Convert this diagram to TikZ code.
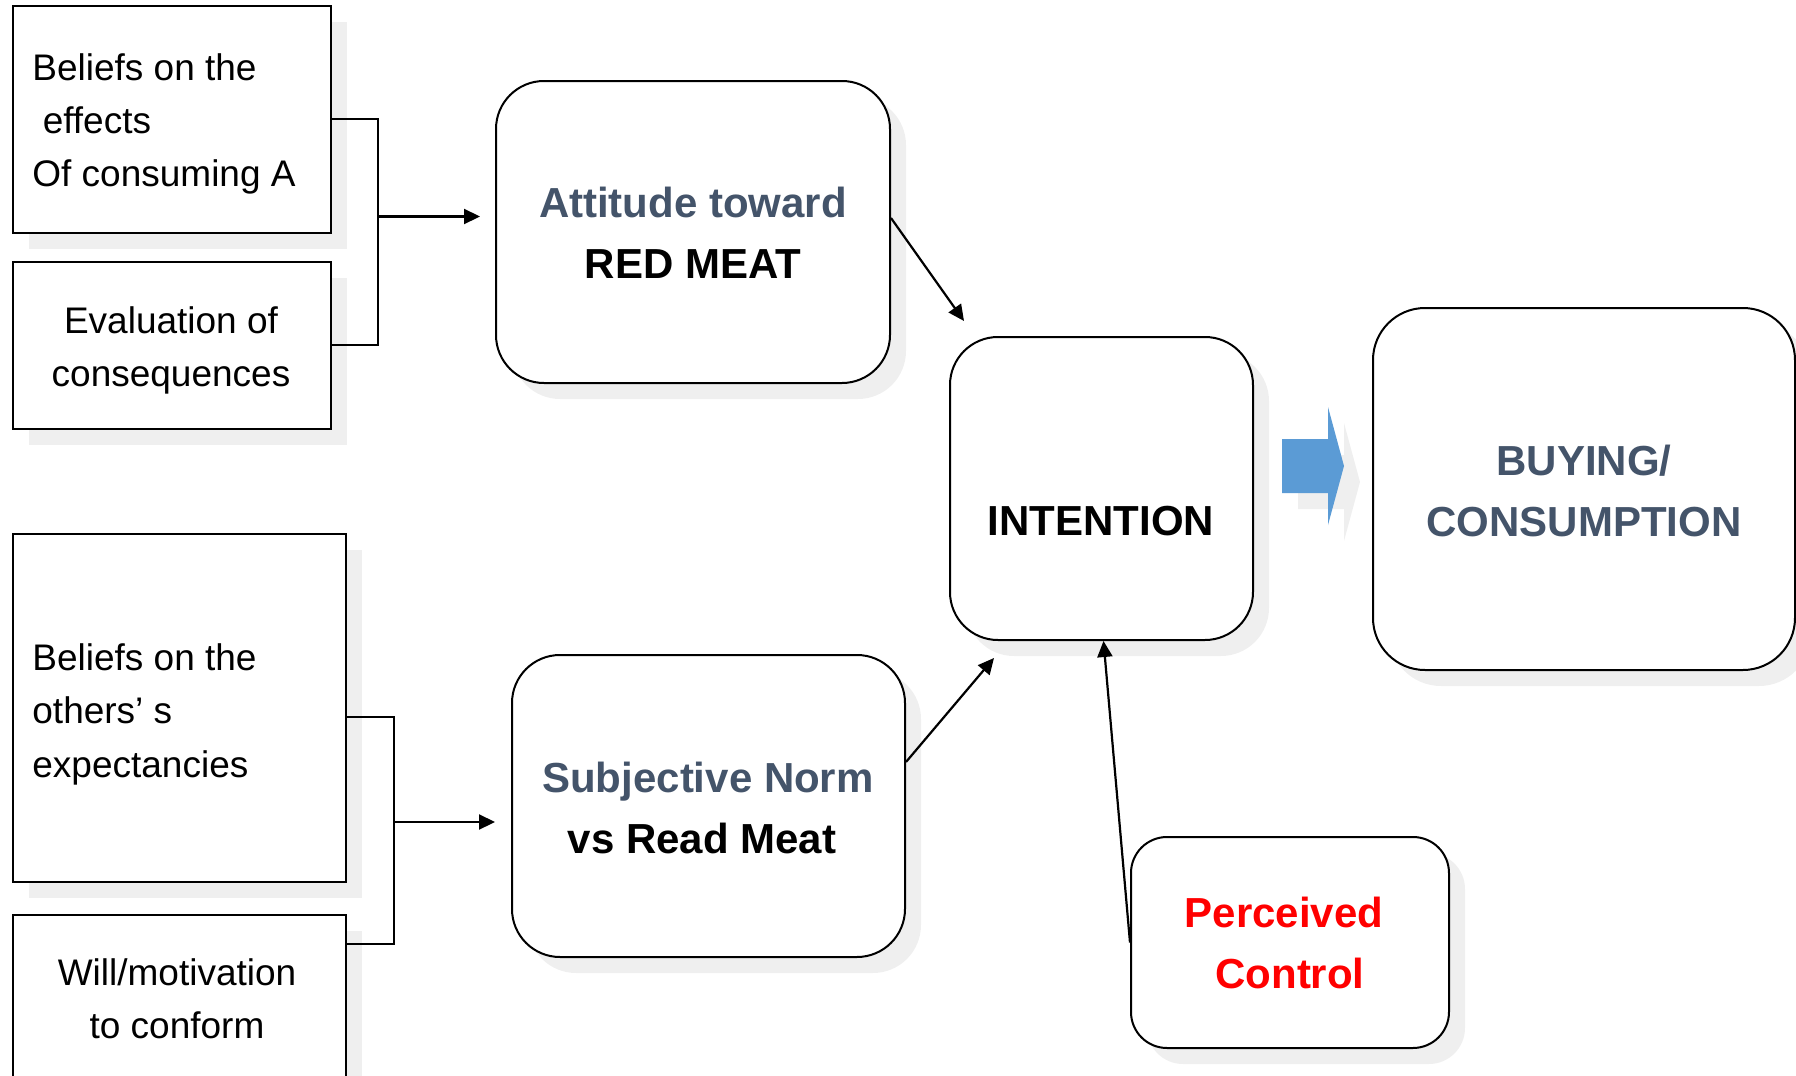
\documentclass[tikz,border=0pt]{standalone}
\usepackage{fontspec}
\setmainfont{Liberation Sans}
\usetikzlibrary{arrows.meta,shadows,calc}
\definecolor{slate}{HTML}{44546A}
\definecolor{flowblue}{HTML}{5B9BD5}
\definecolor{shadowgrey}{HTML}{EFEFEF}
\definecolor{alert}{HTML}{FF0000}
\newcommand\txtl[1]{\begin{tabular}[t]{@{}l@{}}#1\end{tabular}}
\newcommand\txtc[1]{\begin{tabular}[t]{@{}c@{}}#1\end{tabular}}

\begin{document}
\begin{tikzpicture}[x=0.5pt,y=-0.5pt,
  shadowed/.style={drop shadow={shadow xshift=8pt,shadow yshift=-8pt,fill=shadowgrey,opacity=1}},
  plainbox/.style={draw=black,line width=1pt,fill=white,inner sep=0pt,shadowed},
  softbox/.style={plainbox,rounded corners=24pt},
  body/.style={inner sep=0pt,font=\fontsize{18.5}{26.75}\selectfont},
  heavy/.style={inner sep=0pt,font=\fontsize{21}{30.75}\selectfont\bfseries},
  link/.style={line width=1.1pt,-{Triangle[length=8pt,width=7.5pt]}},
  joint/.style={line width=1pt},
]
\useasboundingbox (0,0) rectangle (1796,1076);
\clip (0,0) rectangle (1796,1076);

% belief and evaluation boxes on the left
\node[plainbox,minimum width=159.25pt,minimum height=113.5pt] (b1) at (171.75,119) {};
\node[plainbox,minimum width=159.25pt,minimum height=83.25pt] (b2) at (171.75,345.25) {};
\node[plainbox,minimum width=166.5pt,minimum height=174pt] (b3) at (179,708) {};
\node[plainbox,minimum width=166.5pt,minimum height=85pt] (b4) at (179,1000) {};

% constructs of the model
\node[softbox,minimum width=197pt,minimum height=151pt] (att) at (693,232) {};
\node[softbox,minimum width=196.5pt,minimum height=151pt] (sn) at (708.5,806) {};
\node[softbox,minimum width=151.5pt,minimum height=151.5pt] (int) at (1101.5,488.5) {};
\node[softbox,rounded corners=26pt,minimum width=211pt,minimum height=181pt] (buy) at (1584,489) {};
\node[softbox,rounded corners=18pt,minimum width=159pt,minimum height=105.5pt] (pc) at (1290,942.5) {};

% box texts
\node[body,anchor=base west] (t1) at (32,80) {\txtl{Beliefs on the\\\hspace*{0.28em}effects\\Of consuming A}};
\node[body,anchor=base] (t2) at (171,333) {\txtc{Evaluation of\\consequences}};
\node[body,anchor=base west] (t3) at (32,670) {\txtl{Beliefs on the\\others’ s\\expectancies}};
\node[body,anchor=base] (t4) at (177,985) {\txtc{Will/motivation\\to conform}};
\node[heavy,anchor=base] (t5) at (693,217) {\txtc{\textcolor{slate}{Attitude toward}\\RED MEAT}};
\node[heavy,anchor=base] (t6) at (708,792) {\txtc{\textcolor{slate}{Subjective Norm}\\vs Read Meat\hspace*{0.28em}}};
\node[heavy,anchor=base] (t7) at (1101,535) {INTENTION};
\node[heavy,anchor=base,text=slate] (t8) at (1584,475) {\txtc{BUYING/\\CONSUMPTION}};
\node[heavy,anchor=base,text=alert] (t9) at (1290,927) {\txtc{Perceived\hspace*{0.28em}\\Control}};

% bracket joining the two upper boxes
\coordinate (j1) at (378,216.5);
\draw[joint] (b1.east) -| (j1) |- (b2.east);
\draw[link,shorten >=7.5pt] (j1) -- (att.west |- j1);

% bracket joining the two lower boxes
\coordinate (j2) at (393.5,822);
\coordinate (k3) at (0,717);
\coordinate (k4) at (0,944);
\draw[joint] (b3.east |- k3) -| (j2) |- (b4.east |- k4);
\draw[link,shorten >=8pt] (j2) -- (sn.west |- j2);

% influences on intention
\draw[link] ([yshift=7pt]att.east) -- ($(int.north west)+(15,-15)$);
\draw[link] ([yshift=22pt]sn.east) -- ($(int.south west)+(45,17)$);
\draw[link] (pc.west) -- ([xshift=1pt]int.south);

% block arrow from intention to behaviour, with its offset shadow
\begin{scope}[shift={(16,16)}]
  \fill[shadowgrey] (1282,439) -- (1328,439) -- (1328,407) -- (1344,466)
    -- (1328,525) -- (1328,493) -- (1282,493) -- cycle;
\end{scope}
\fill[flowblue] (1282,439) -- (1328,439) -- (1328,407) -- (1344,466)
  -- (1328,525) -- (1328,493) -- (1282,493) -- cycle;
\end{tikzpicture}
\end{document}
